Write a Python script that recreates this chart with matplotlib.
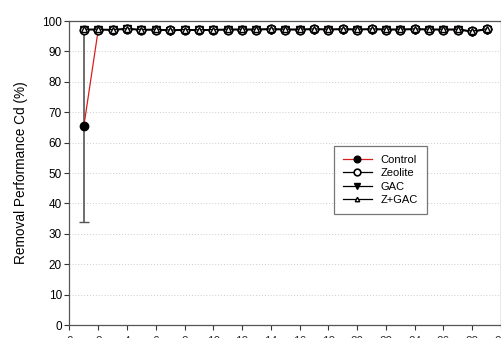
import matplotlib
matplotlib.use("Agg")
import matplotlib.pyplot as plt

plt.rcParams['font.family'] = ['Liberation Sans', 'DejaVu Sans']

# days 1..29
days = list(range(1, 30))

control = [65.5, 97.2, 97.1, 97.4, 97.1, 97.2, 96.9, 97.1, 97.0, 97.1, 97.2, 97.2, 97.2, 97.3,
           97.2, 97.2, 97.3, 97.2, 97.3, 97.2, 97.3, 97.2, 97.2, 97.3, 97.2, 97.2, 97.2, 96.6, 97.3]
control_err = [31.5] + [0.0] * 28
zeolite = [97.2, 97.2, 97.1, 97.4, 97.1, 97.2, 96.9, 97.1, 97.0, 97.1, 97.2, 97.2, 97.2, 97.3,
           97.2, 97.2, 97.3, 97.2, 97.3, 97.2, 97.3, 97.2, 97.2, 97.3, 97.2, 97.2, 97.2, 96.6, 97.3]
gac = [97.1, 97.1, 97.0, 97.3, 97.0, 97.1, 96.8, 97.0, 96.9, 97.0, 97.1, 97.1, 97.1, 97.2,
       97.1, 97.1, 97.2, 97.1, 97.2, 97.1, 97.2, 97.1, 97.1, 97.2, 97.1, 97.1, 97.1, 96.4, 97.2]
zgac = [97.3, 97.3, 97.2, 97.5, 97.2, 97.3, 97.0, 97.2, 97.1, 97.2, 97.3, 97.3, 97.3, 97.4,
        97.3, 97.3, 97.4, 97.3, 97.4, 97.3, 97.4, 97.3, 97.3, 97.4, 97.3, 97.3, 97.3, 96.7, 97.4]

fig = plt.figure(figsize=(5.02, 3.38), dpi=100)
ax = fig.add_axes([69.5 / 502, 13 / 338, (501 - 69.5) / 502, (325 - 21) / 338])

# error bar only (kept out of the legend)
ax.errorbar(days, control, yerr=control_err, fmt="none", ecolor="#555555",
            elinewidth=1.2, capsize=3.5, capthick=1.0, zorder=2)
ax.plot(days, control, color="#d62020", lw=0.9, marker="o", ms=6, mfc="black", mec="black",
        label="Control", zorder=3)
ax.plot(days, gac, color="black", lw=0.9, marker="v", ms=6, mfc="black", mec="black",
        label="GAC", zorder=4)
ax.plot(days, zeolite, color="black", lw=0.9, marker="o", ms=6, mfc="white", mec="black",
        mew=1.2, label="Zeolite", zorder=5)
ax.plot(days, zgac, color="black", lw=0.9, marker="^", ms=4, mfc="white", mec="black",
        mew=1.0, label="Z+GAC", zorder=6)

ax.set_xlim(0, 30)
ax.set_ylim(0, 100)
ax.set_xticks(range(0, 31, 2))
ax.set_yticks(range(0, 101, 10))
ax.set_ylabel("Removal Performance Cd (%)", fontsize=9.8, labelpad=10)
ax.tick_params(direction="out", length=3.5, width=0.8, labelsize=8.5, pad=2, colors="#333333")
ax.tick_params(axis="y", labelcolor="black")
ax.tick_params(axis="x", pad=4.5)
for s in ax.spines.values():
    s.set_linewidth(0.9)
    s.set_color("#555555")
for yv in range(10, 100, 10):
    ax.axhline(yv, color="#cccccc", lw=0.7, ls=(0, (1, 2)), zorder=0)

h, l = ax.get_legend_handles_labels()
order = [l.index(n) for n in ["Control", "Zeolite", "GAC", "Z+GAC"]]
leg = ax.legend([h[i] for i in order], [l[i] for i in order], loc="upper left",
                bbox_to_anchor=(0.6, 0.607), fontsize=8, frameon=True, fancybox=False,
                edgecolor="#555555", handlelength=2.6, borderpad=0.8, labelspacing=0.3,
                markerscale=0.8)
leg.get_frame().set_linewidth(0.9)

fig.savefig("out.png", dpi=100)
